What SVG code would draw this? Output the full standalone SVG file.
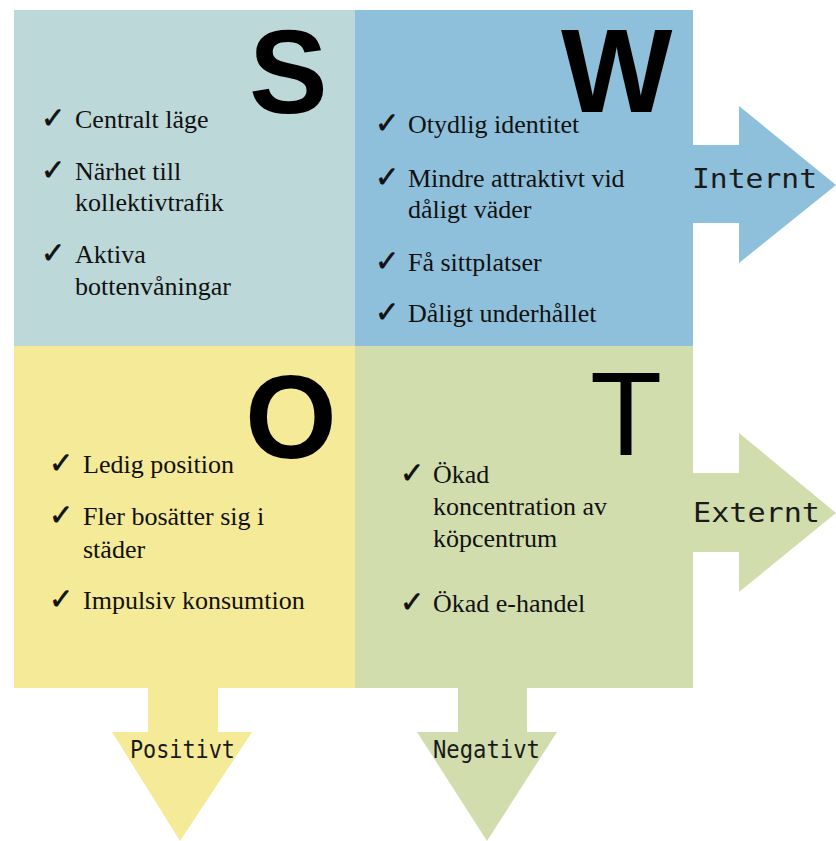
<svg xmlns="http://www.w3.org/2000/svg" width="836" height="841" viewBox="0 0 836 841">
<style>
.item{font-family:"Liberation Serif","Times New Roman",serif;font-size:26px;fill:#111}
.chk{font-family:"DejaVu Sans",sans-serif;font-size:29px;fill:#111;stroke:#111;stroke-width:0.6}
.big{font-family:"Liberation Sans",Arial,sans-serif;font-size:118px;fill:#000}
.lab{font-family:"DejaVu Sans Mono","Liberation Mono",monospace;fill:#1a1a1a}
</style>
<rect width="836" height="841" fill="#fff"/>
<g id="connectors">
  <path id="arrow-internt" d="M690 145 H739 V106 L836 185 L739 263 V223 H690 Z" fill="#8FC0DB"/>
  <path id="arrow-externt" d="M690 473 H739 V433 L836 513 L739 592 V552 H690 Z" fill="#D2DDAE"/>
  <path id="arrow-positivt" d="M148 685 H218 V732 H252 L180 841 L112 732 H148 Z" fill="#F4EA98"/>
  <path id="arrow-negativt" d="M458 685 H527 V732 H557 L487 841 L417 732 H458 Z" fill="#D2DDAE"/>
  <text class="lab" x="692" y="188" font-size="27" textLength="125" lengthAdjust="spacingAndGlyphs">Internt</text>
  <text class="lab" x="693" y="522" font-size="27" textLength="127" lengthAdjust="spacingAndGlyphs">Externt</text>
  <text class="lab" x="130" y="758" font-size="25" textLength="105" lengthAdjust="spacingAndGlyphs">Positivt</text>
  <text class="lab" x="433" y="758" font-size="25" textLength="107" lengthAdjust="spacingAndGlyphs">Negativt</text>
</g>
<g id="node-S">
  <rect x="14" y="10" width="341" height="336" fill="#BDD8D9"/>
  <text class="big" x="249" y="113" font-weight="bold">S</text>
  <text class="chk" x="41" y="128">✓</text><text class="item" x="75" y="128">Centralt läge</text>
  <text class="chk" x="41" y="180">✓</text><text class="item" x="75" y="180">Närhet till</text>
  <text class="item" x="75" y="211">kollektivtrafik</text>
  <text class="chk" x="41" y="263">✓</text><text class="item" x="75" y="263">Aktiva</text>
  <text class="item" x="75" y="295">bottenvåningar</text>
</g>
<g id="node-W">
  <rect x="355" y="10" width="338" height="336" fill="#8FC0DB"/>
  <text class="big" x="561" y="112" font-weight="bold">W</text>
  <text class="chk" x="375" y="133">✓</text><text class="item" x="408" y="133">Otydlig identitet</text>
  <text class="chk" x="375" y="187">✓</text><text class="item" x="408" y="187">Mindre attraktivt vid</text>
  <text class="item" x="408" y="218">dåligt väder</text>
  <text class="chk" x="375" y="271">✓</text><text class="item" x="408" y="271">Få sittplatser</text>
  <text class="chk" x="375" y="322">✓</text><text class="item" x="408" y="322">Dåligt underhållet</text>
</g>
<g id="node-O">
  <rect x="14" y="346" width="341" height="342" fill="#F4EA98"/>
  <text class="big" x="245" y="458" font-weight="bold">O</text>
  <text class="chk" x="49" y="473">✓</text><text class="item" x="83" y="473">Ledig position</text>
  <text class="chk" x="49" y="525">✓</text><text class="item" x="83" y="525">Fler bosätter sig i</text>
  <text class="item" x="83" y="558">städer</text>
  <text class="chk" x="49" y="609">✓</text><text class="item" x="83" y="609">Impulsiv konsumtion</text>
</g>
<g id="node-T">
  <rect x="355" y="346" width="338" height="342" fill="#D2DDAE"/>
  <text class="big" x="590" y="455">T</text>
  <text class="chk" x="400" y="483">✓</text><text class="item" x="433" y="483">Ökad</text>
  <text class="item" x="433" y="515">koncentration av</text>
  <text class="item" x="433" y="547">köpcentrum</text>
  <text class="chk" x="400" y="612">✓</text><text class="item" x="433" y="612">Ökad e-handel</text>
</g>
</svg>
